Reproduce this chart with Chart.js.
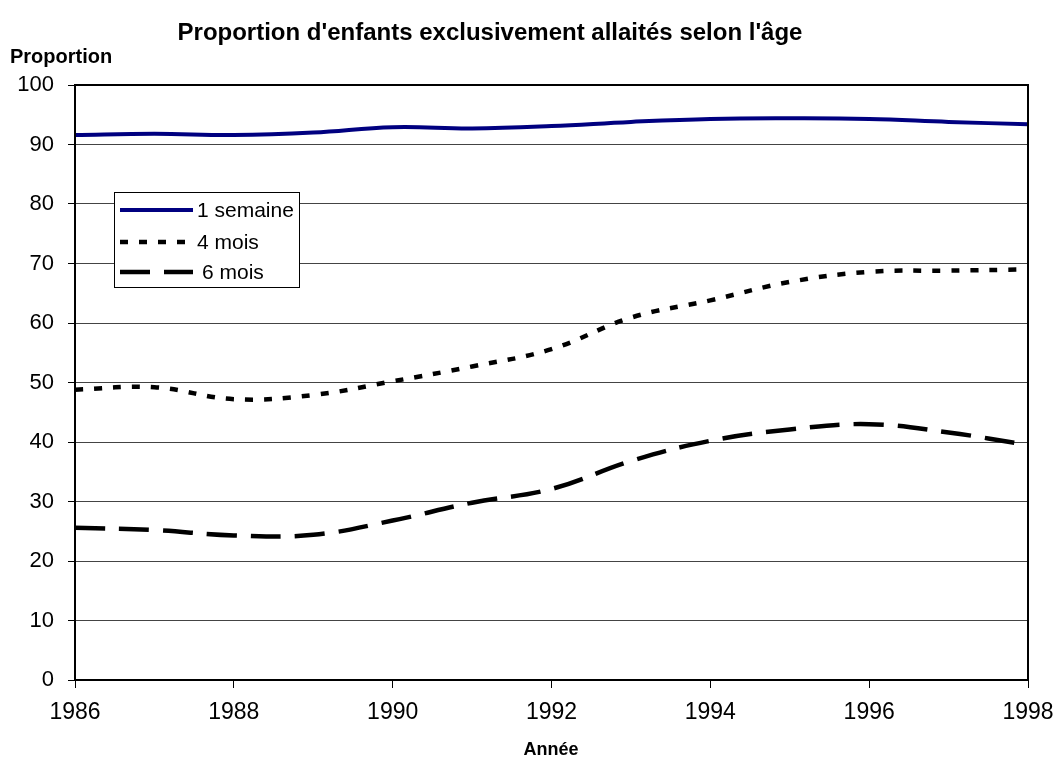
<!DOCTYPE html>
<html>
<head>
<meta charset="utf-8">
<script src="https://cdn.jsdelivr.net/npm/chart.js@4.4.1/dist/chart.umd.min.js"></script>
<style>
    body { margin: 0; background: #fff; }
    #wrap { width: 1056px; height: 760px; }
</style>
</head>
<body>
<div id="wrap"><canvas id="myChart"></canvas></div>
<script>
const years = [1986, 1987, 1988, 1989, 1990, 1991, 1992, 1993, 1994, 1995, 1996, 1997, 1998]
const semaine1 = [91.6, 91.8, 91.6, 92.0, 92.9, 92.7, 93.1, 93.8, 94.3, 94.4, 94.3, 93.8, 93.4]
const mois4 = [48.8, 49.2, 47.2, 47.9, 50.2, 52.7, 55.6, 60.9, 63.8, 66.9, 68.6, 68.8, 69.0]
const mois6 = [25.6, 25.2, 24.3, 24.4, 26.8, 29.8, 32.1, 36.8, 40.2, 42.1, 43.0, 41.6, 39.5]
const seriesNames = ['1 semaine', '4 mois', '6 mois']

const FONT = "'Liberation Sans', Arial, sans-serif"

function toPoints(values) {
    return values.map((v, i) => ({ x: years[i], y: v }))
}

// titles, plot frame and the boxed legend inside the plot
const decorations = {
    id: 'decorations',
    beforeDraw(chart) {
        const ctx = chart.ctx
        ctx.save()
        ctx.fillStyle = '#fff'
        ctx.fillRect(0, 0, chart.width, chart.height)
        ctx.restore()
    },
    afterDatasetsDraw(chart) {
        const ctx = chart.ctx
        const a = chart.chartArea
        ctx.save()
        ctx.strokeStyle = '#000'
        ctx.lineWidth = 2
        ctx.strokeRect(a.left, a.top, a.right - a.left, a.bottom - a.top)

        ctx.fillStyle = '#000'
        ctx.textBaseline = 'middle'
        ctx.textAlign = 'center'
        ctx.font = 'bold 24px ' + FONT
        ctx.fillText("Proportion d'enfants exclusivement allaités selon l'âge", 490, 33)
        ctx.textAlign = 'left'
        ctx.font = 'bold 20px ' + FONT
        ctx.fillText('Proportion', 10, 57)
        ctx.textAlign = 'center'
        ctx.font = 'bold 18px ' + FONT
        ctx.fillText('Année', 551, 750)

        // legend
        const bx = 114, by = 192, bw = 185, bh = 95
        ctx.fillStyle = '#fff'
        ctx.fillRect(bx, by, bw, bh)
        ctx.strokeStyle = '#000'
        ctx.lineWidth = 1
        ctx.strokeRect(bx + 0.5, by + 0.5, bw, bh)
        const rows = [210, 242, 272]
        const textX = [197, 197, 202]
        chart.data.datasets.forEach((ds, i) => {
            ctx.beginPath()
            ctx.strokeStyle = ds.borderColor
            ctx.lineWidth = ds.borderWidth
            ctx.setLineDash(ds.borderDash || [])
            ctx.moveTo(120, rows[i])
            ctx.lineTo(193, rows[i])
            ctx.stroke()
            ctx.setLineDash([])
            ctx.fillStyle = '#000'
            ctx.textAlign = 'left'
            ctx.font = '21px ' + FONT
            ctx.fillText(ds.label, textX[i], rows[i] + 1)
        })
        ctx.restore()
    }
}

const ctx = document.getElementById('myChart').getContext('2d')
const chart = new Chart(ctx, {
    type: 'line',
    data: {
        datasets: [{
            label: seriesNames[0],
            data: toPoints(semaine1),
            borderColor: '#000080',
            borderWidth: 4,
            tension: 0.4
        }, {
            label: seriesNames[1],
            data: toPoints(mois4),
            borderColor: '#000',
            borderWidth: 4.5,
            borderDash: [8, 11],
            tension: 0.4
        }, {
            label: seriesNames[2],
            data: toPoints(mois6),
            borderColor: '#000',
            borderWidth: 4.5,
            borderDash: [30, 14],
            tension: 0.4
        }]
    },
    options: {
        responsive: true,
        maintainAspectRatio: false,
        animation: false,
        layout: {
            padding: { top: 85, right: 28, bottom: 0, left: 0 }
        },
        elements: {
            point: { radius: 0 },
            line: { fill: false, borderCapStyle: 'butt' }
        },
        plugins: {
            legend: { display: false },
            tooltip: { enabled: false }
        },
        scales: {
            x: {
                type: 'linear',
                min: 1986,
                max: 1998,
                afterFit(scale) {
                    scale.height = 80
                    scale.paddingLeft = 0
                    scale.paddingRight = 0
                },
                ticks: {
                    stepSize: 2,
                    color: '#000',
                    padding: 11,
                    font: { family: FONT, size: 23 },
                    callback: v => String(v)
                },
                grid: {
                    drawOnChartArea: false,
                    drawTicks: true,
                    tickLength: 8,
                    color: '#000'
                },
                border: { color: '#000', width: 2 }
            },
            y: {
                min: 0,
                max: 100,
                afterFit(scale) { scale.width = 75 },
                ticks: {
                    stepSize: 10,
                    color: '#000',
                    padding: 14,
                    font: { family: FONT, size: 22 }
                },
                grid: {
                    color: '#444',
                    lineWidth: 1,
                    tickLength: 7,
                    tickColor: '#000'
                },
                border: { color: '#000', width: 2 }
            }
        }
    },
    plugins: [decorations]
})
</script>
</body>
</html>
